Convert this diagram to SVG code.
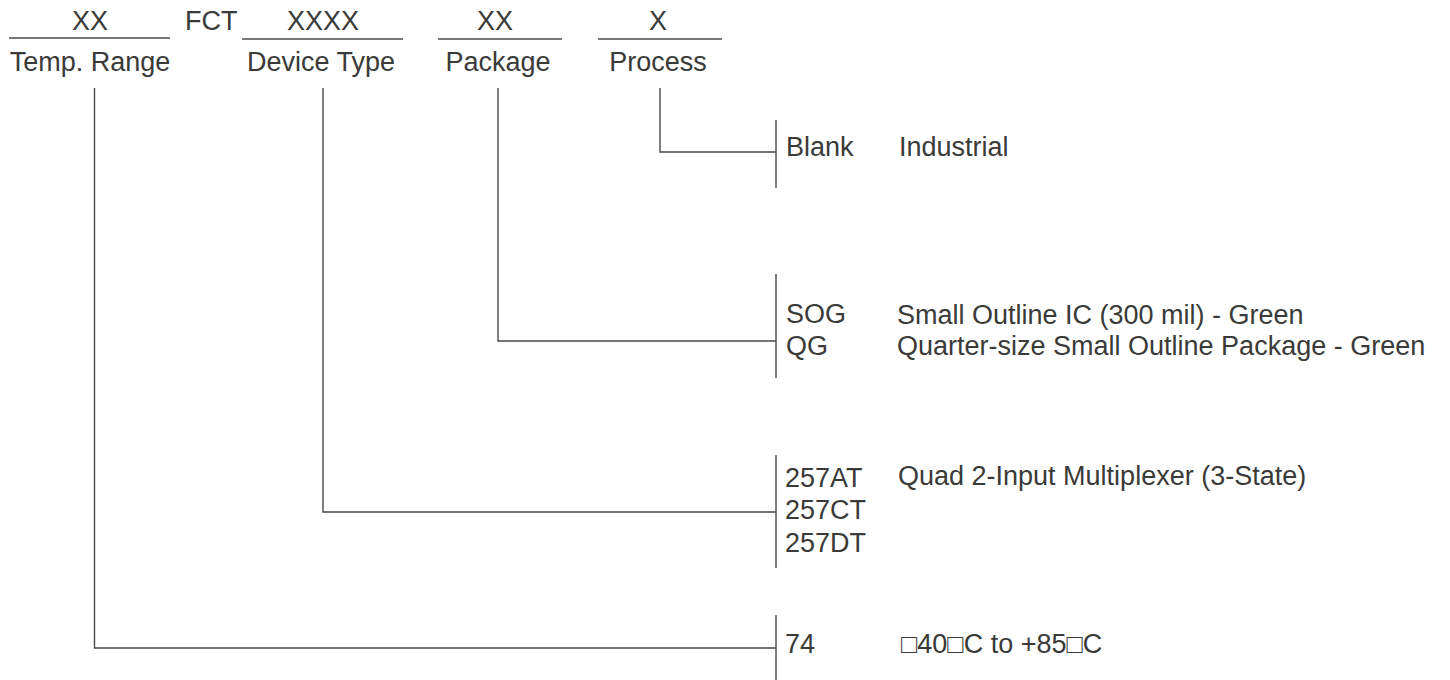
<svg xmlns="http://www.w3.org/2000/svg" width="1450" height="680" viewBox="0 0 1450 680">
<style>
text{font-family:"Liberation Sans",Arial,sans-serif;fill:#3a3a38;font-size:27px;}
.c{text-anchor:middle;}
line,polyline{stroke:#4a4a48;stroke-width:1.4;fill:none;}
</style>
<rect width="1450" height="680" fill="#fff"/>
<g id="header">
<text class="c" x="90" y="30">XX</text>
<line x1="9" y1="38" x2="170" y2="38"/>
<text x="185" y="30">FCT</text>
<text class="c" x="323" y="30">XXXX</text>
<line x1="242" y1="39" x2="403" y2="39"/>
<text class="c" x="495" y="30">XX</text>
<line x1="438" y1="39" x2="562" y2="39"/>
<text class="c" x="658" y="30">X</text>
<line x1="598" y1="39" x2="722" y2="39"/>
<text class="c" x="90" y="71">Temp. Range</text>
<text class="c" x="321" y="71">Device Type</text>
<text class="c" x="498" y="71">Package</text>
<text class="c" x="658" y="71">Process</text>
</g>
<g id="connectors">
<polyline points="660,88 660,152 776,152"/>
<polyline points="498,88 498,341 776,341"/>
<polyline points="323,88 323,512 776,512"/>
<polyline points="94.5,88 94.5,648 776,648"/>
<line x1="776" y1="120" x2="776" y2="188"/>
<line x1="776" y1="274" x2="776" y2="378"/>
<line x1="776" y1="455" x2="776" y2="568"/>
<line x1="776" y1="615" x2="776" y2="680"/>
</g>
<g id="process">
<text x="786" y="156">Blank</text>
<text x="899" y="156">Industrial</text>
</g>
<g id="package">
<text x="786" y="323">SOG</text>
<text x="897" y="324">Small Outline IC (300 mil) - Green</text>
<text x="786" y="355">QG</text>
<text x="897" y="355">Quarter-size Small Outline Package - Green</text>
</g>
<g id="device">
<text x="785" y="487">257AT</text>
<text x="898" y="485">Quad 2-Input Multiplexer (3-State)</text>
<text x="785" y="519">257CT</text>
<text x="785" y="552">257DT</text>
</g>
<g id="temp">
<text x="785" y="653">74</text>
<text x="901" y="653">□40□C to +85□C</text>
</g>
</svg>
